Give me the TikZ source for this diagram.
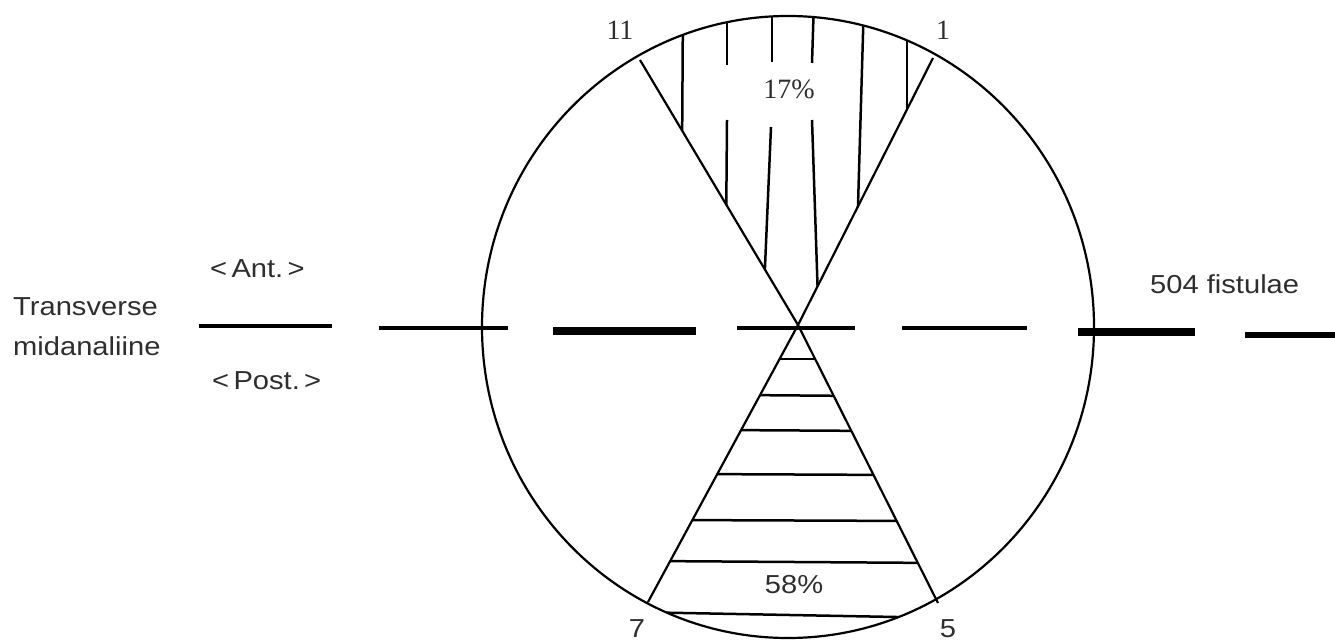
\documentclass[tikz,border=0pt]{standalone}
\usepackage{fontspec}
\setmainfont{Liberation Serif}
\newfontfamily\sff[FakeStretch=1.12]{Liberation Sans}
\colorlet{txt}{black!82}
\tikzset{
  outline/.style={line width=2.2pt, line join=round},
  hatch/.style={line width=2.5pt},
  thindash/.style={line width=4.5pt},
  thickdash/.style={line width=8pt},
  sanslabel/.style={inner sep=0pt, anchor=base west, text=txt, font=\sff\fontsize{26}{30}\selectfont},
  seriflabel/.style={inner sep=0pt, text=txt, font=\fontsize{28}{32}\selectfont},
}
\begin{document}
\begin{tikzpicture}[x=1pt,y=-1pt]
\useasboundingbox (0,0) rectangle (1335,644);
\coordinate (C) at (798,325);
\coordinate (P11) at (640,60);
\coordinate (P1) at (933,58);
\coordinate (P7) at (648,602);
\coordinate (P5) at (938,603);
% circle
\draw[outline] (788,327) ellipse [x radius=306, y radius=311];
% sector edges
\draw[outline] (P11) -- (C) -- (P1);
\draw[outline] (P7) -- (C) -- (P5);
% top hatching
\begin{scope}
  \clip (788,327) ellipse [x radius=306, y radius=311];
  \clip (C) -- (P11) -- (640,0) -- (933,0) -- (P1) -- cycle;
  \draw[hatch] (683,0) -- (682,160);
  \draw[hatch] (727,0) -- (727,65);
  \draw[hatch] (727,120) -- (726,240);
  \draw[hatch] (772,0) -- (772,62);
  \draw[hatch] (771,127) -- (764,290);
  \draw[hatch] (814,0) -- (812,63);
  \draw[hatch] (812,120) -- (818,300);
  \draw[hatch] (864,0) -- (857,240);
  \draw[hatch] (907,0) -- (907,140);
\end{scope}
% bottom hatching
\begin{scope}
  \clip (C) -- (P7) -- (648,644) -- (938,644) -- (P5) -- cycle;
  \draw[hatch] (760,359) -- (840,359);
  \draw[hatch] (740,395) -- (860,396);
  \draw[hatch] (720,430) -- (880,431);
  \draw[hatch] (690,474) -- (900,475);
  \draw[hatch] (670,520) -- (920,521);
  \draw[hatch] (650,561) -- (940,563);
\end{scope}
\begin{scope}
  \clip (788,327) ellipse [x radius=306, y radius=311];
  \draw[hatch] (630,612) -- (950,618);
\end{scope}
% transverse midanal line (dashes)
\draw[thindash] (199,326) -- (332,326);
\draw[thindash] (379,328) -- (508,328);
\draw[thickdash] (553,331) -- (696,331);
\draw[thindash] (737,328) -- (855,328);
\draw[thindash] (902,328) -- (1027,328);
\draw[thickdash] (1078,332) -- (1195,332);
\draw[line width=6pt] (1245,335) -- (1335,335);
% labels
\node[seriflabel] (l11) at (620,30) {11};
\node[seriflabel] (l1) at (943,30) {1};
\node[seriflabel] (p17) at (789,89) {17\%};
\node[sanslabel, anchor=center] (p58) at (794,585) {58\%};
\node[sanslabel, anchor=center] (l7) at (637,629) {7};
\node[sanslabel, anchor=center] (l5) at (948,629) {5};
\node[sanslabel] (tr) at (13,315) {Transverse};
\node[sanslabel] (mid) at (13,355) {midanaliine};
\node[sanslabel] (ant) at (210,277) {<\,Ant.\,>};
\node[sanslabel] (post) at (212,389) {<\,Post.\,>};
\node[sanslabel] (fist) at (1150,293) {504 fistulae};
\end{tikzpicture}
\end{document}
